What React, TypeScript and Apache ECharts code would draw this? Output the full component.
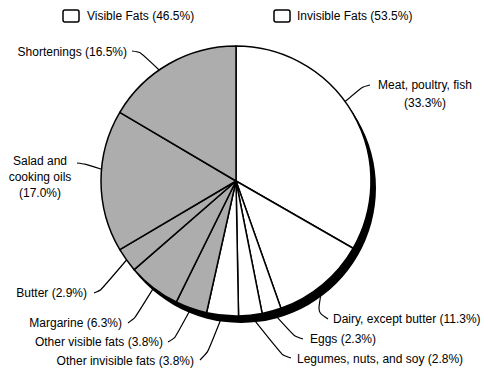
import React, { useEffect, useRef } from "react";
import * as echarts from "echarts";

const categories = [
  "Meat, poultry, fish",
  "Dairy, except butter",
  "Eggs",
  "Legumes, nuts, and soy",
  "Other invisible fats",
  "Other visible fats",
  "Margarine",
  "Butter",
  "Salad and cooking oils",
  "Shortenings",
];
const values = [33.3, 11.3, 2.3, 2.8, 3.8, 3.8, 6.3, 2.9, 17.0, 16.5];
const groups = ["invisible", "invisible", "invisible", "invisible", "invisible", "visible", "visible", "visible", "visible", "visible"];
const labelPrefix = [
  "Meat, poultry, fish\n",
  "Dairy, except butter ",
  "Eggs ",
  "Legumes, nuts, and soy ",
  "Other invisible fats ",
  "Other visible fats ",
  "Margarine ",
  "Butter ",
  "Salad and\ncooking oils\n",
  "Shortenings ",
];
const legendLabels = ["Visible Fats (46.5%)", "Invisible Fats (53.5%)"];

// layout (not data)
const CX = 236;
const CY = 181;
const R = 135;
const FONT = "'Liberation Sans', Arial, Helvetica, sans-serif";
const labelPos: { x: number; y: number; align: string; da: number; bend: number[]; end: number[] }[] = [
  { x: 425, y: 94, align: "center", da: -6, bend: [362, 87], end: [370, 85] },
  { x: 333, y: 319, align: "left", da: 0, bend: [318, 312], end: [328, 319] },
  { x: 310, y: 339, align: "left", da: 0, bend: [294, 336], end: [303, 339] },
  { x: 297, y: 359, align: "left", da: 0, bend: [282, 355], end: [291, 358] },
  { x: 194, y: 361, align: "right", da: 0, bend: [208, 352], end: [200, 360] },
  { x: 163, y: 342, align: "right", da: 0, bend: [175, 338], end: [168, 342] },
  { x: 122, y: 323, align: "right", da: 0, bend: [135, 318], end: [128, 323] },
  { x: 87, y: 293, align: "right", da: 0, bend: [101, 290], end: [94, 293] },
  { x: 40, y: 177, align: "center", da: 5, bend: [85, 164], end: [77, 163] },
  { x: 127, y: 52, align: "right", da: -5, bend: [140, 52], end: [132, 51] },
];

export default function App() {
  const ref = useRef<HTMLDivElement>(null);
  useEffect(() => {
    if (!ref.current) return;
    const chart = echarts.init(ref.current, undefined, { renderer: "svg" });
    const total = values.reduce((a, b) => a + b, 0);
    const mids: number[] = [];
    let cum = 0;
    values.forEach((v) => {
      mids.push(((cum + v / 2) / total) * 2 * Math.PI);
      cum += v;
    });
    const edge = (i: number) => {
      const a = mids[i] + (labelPos[i].da * Math.PI) / 180;
      return [CX + R * Math.sin(a), CY - R * Math.cos(a)];
    };

    const legendGraphics: any[] = [];
    const legendX = [[63, 87], [274, 297]];
    legendLabels.forEach((t, i) => {
      legendGraphics.push({
        type: "rect",
        shape: { x: legendX[i][0], y: 10, width: 16, height: 12, r: 2 },
        style: { fill: "#fff", stroke: "#000", lineWidth: 1.5 },
      });
      legendGraphics.push({
        type: "text",
        x: legendX[i][1],
        y: 16,
        style: { text: t, fill: "#000", font: `12px ${FONT}`, verticalAlign: "middle" },
      });
    });

    chart.setOption({
      animation: false,
      backgroundColor: "#fff",
      graphic: legendGraphics,
      series: [
        {
          type: "pie",
          z: 1,
          silent: true,
          center: [CX + 5, CY + 7],
          radius: R,
          label: { show: false },
          labelLine: { show: false },
          itemStyle: { color: "#000", borderWidth: 0 },
          data: [{ value: 1, name: "shadow" }],
        },
        {
          type: "pie",
          z: 2,
          center: [CX, CY],
          radius: R,
          startAngle: 90,
          clockwise: true,
          avoidLabelOverlap: false,
          minShowLabelAngle: 0,
          itemStyle: { borderColor: "#000", borderWidth: 1.5 },
          label: {
            show: true,
            position: "outside",
            fontFamily: FONT,
            fontSize: 12,
            color: "#000",
            lineHeight: 16,
            formatter: (p: any) => labelPrefix[p.dataIndex] + "(" + values[p.dataIndex].toFixed(1) + "%)",
          },
          labelLine: { show: true, smooth: 0.25, lineStyle: { color: "#000", width: 1.2 } },
          labelLayout: (p: any) => {
            const L = labelPos[p.dataIndex];
            return {
              x: L.x,
              y: L.y,
              align: L.align,
              verticalAlign: "middle",
              labelLinePoints: [edge(p.dataIndex), L.bend, L.end],
            };
          },
          data: categories.map((c, i) => ({
            name: c,
            value: values[i],
            itemStyle: { color: groups[i] === "visible" ? "#adadad" : "#ffffff" },
            label: i === 0 ? { lineHeight: 18 } : undefined,
          })),
        },
      ],
    });
    return () => chart.dispose();
  }, []);
  return <div ref={ref} style={{ position: "fixed", left: 0, top: 0, width: 484, height: 372 }} />;
}
